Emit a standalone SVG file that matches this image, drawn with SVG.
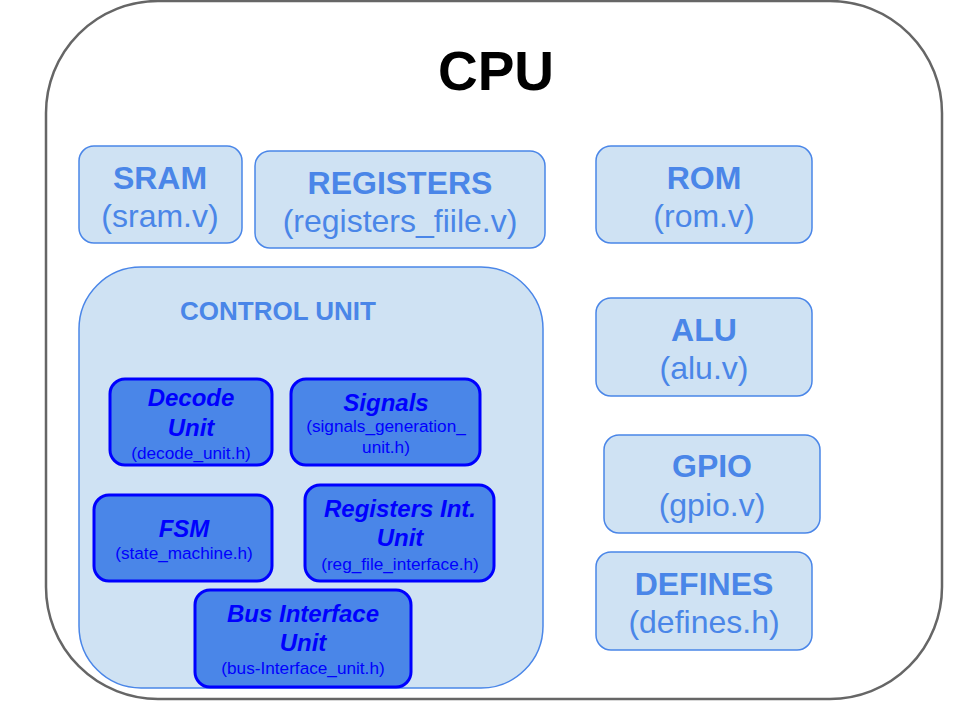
<svg xmlns="http://www.w3.org/2000/svg" width="960" height="720" viewBox="0 0 960 720">
<style>
.lb{fill:#cfe2f3;stroke:#4a86e8;stroke-width:1.5}
.db{fill:#4a86e8;stroke:#0000ff;stroke-width:3}
.t{font-family:"Liberation Sans",Arial,sans-serif;fill:#4a86e8;text-anchor:middle}
.h{font-size:32px;font-weight:bold}
.s{font-size:32px}
.it{font-family:"Liberation Sans",Arial,sans-serif;fill:#0000ff;text-anchor:middle;font-size:24px;font-weight:bold;font-style:italic}
.sm{font-family:"Liberation Sans",Arial,sans-serif;fill:#0000ff;text-anchor:middle;font-size:17.2px}
</style>
<rect width="960" height="720" fill="#ffffff"/>
<g id="cpu">
<rect x="46" y="1" width="896" height="698" rx="112" fill="#ffffff" stroke="#666666" stroke-width="2.5"/>
<text x="496" y="90" font-family="Liberation Sans,Arial,sans-serif" font-size="55" font-weight="bold" fill="#000000" text-anchor="middle">CPU</text>
</g>
<g id="sram">
<rect class="lb" x="79" y="146" width="163" height="97" rx="15"/>
<text class="t h" x="160" y="189">SRAM</text>
<text class="t s" x="160" y="227">(sram.v)</text>
</g>
<g id="registers">
<rect class="lb" x="255" y="151" width="290" height="97" rx="15"/>
<text class="t h" x="400" y="194">REGISTERS</text>
<text class="t s" x="400" y="232">(registers_fiile.v)</text>
</g>
<g id="rom">
<rect class="lb" x="596" y="146" width="216" height="97" rx="15"/>
<text class="t h" x="704" y="189">ROM</text>
<text class="t s" x="704" y="227">(rom.v)</text>
</g>
<g id="alu">
<rect class="lb" x="596" y="298" width="216" height="98" rx="15"/>
<text class="t h" x="704" y="341">ALU</text>
<text class="t s" x="704" y="379">(alu.v)</text>
</g>
<g id="gpio">
<rect class="lb" x="604" y="435" width="216" height="98" rx="15"/>
<text class="t h" x="712" y="477">GPIO</text>
<text class="t s" x="712" y="516">(gpio.v)</text>
</g>
<g id="defines">
<rect class="lb" x="596" y="552" width="216" height="98" rx="15"/>
<text class="t h" x="704" y="595">DEFINES</text>
<text class="t s" x="704" y="633">(defines.h)</text>
</g>
<g id="control_unit">
<rect class="lb" x="79" y="267" width="464" height="421" rx="62"/>
<text class="t" x="278" y="320" font-size="26" font-weight="bold">CONTROL UNIT</text>
</g>
<g id="decode_unit">
<rect class="db" x="110" y="379" width="162" height="86" rx="15"/>
<text class="it" x="191" y="406">Decode</text>
<text class="it" x="191" y="436">Unit</text>
<text class="sm" x="191" y="459">(decode_unit.h)</text>
</g>
<g id="signals">
<rect class="db" x="291" y="379" width="189" height="86" rx="15"/>
<text class="it" x="386" y="411">Signals</text>
<text class="sm" x="386" y="432">(signals_generation_</text>
<text class="sm" x="386" y="453">unit.h)</text>
</g>
<g id="fsm">
<rect class="db" x="94" y="495" width="178" height="86" rx="15"/>
<text class="it" x="184" y="537">FSM</text>
<text class="sm" x="184" y="559">(state_machine.h)</text>
</g>
<g id="reg_int_unit">
<rect class="db" x="305" y="485" width="189" height="96" rx="15"/>
<text class="it" x="400" y="517">Registers Int.</text>
<text class="it" x="400" y="546">Unit</text>
<text class="sm" x="400" y="570">(reg_file_interface.h)</text>
</g>
<g id="bus_interface_unit">
<rect class="db" x="195" y="590" width="216" height="97" rx="15"/>
<text class="it" x="303" y="622">Bus Interface</text>
<text class="it" x="303" y="651">Unit</text>
<text class="sm" x="303" y="674">(bus-Interface_unit.h)</text>
</g>
<g id="connectors"></g>
</svg>
